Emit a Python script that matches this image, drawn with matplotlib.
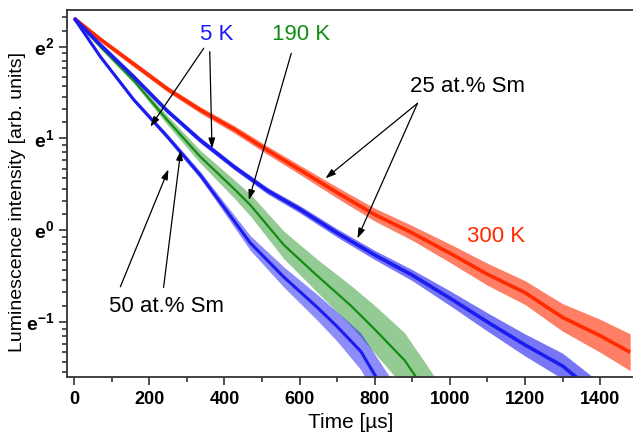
import numpy as np
import matplotlib
matplotlib.use("Agg")
import matplotlib.pyplot as plt
from matplotlib.ticker import FixedLocator, FixedFormatter

plt.rcParams["font.family"] = ["Liberation Sans", "DejaVu Sans"]
plt.rcParams["mathtext.fontset"] = "custom"
plt.rcParams["mathtext.rm"] = "Liberation Sans"
plt.rcParams["mathtext.bf"] = "Liberation Sans:bold"

# decay curves: time [us], ln(intensity), ln half-spread of the scatter
t_red = [0, 70, 159, 248, 336, 426, 515, 600, 700, 800, 900, 1000, 1100, 1200, 1300, 1400, 1480]
ln_red = [2.31, 2.08, 1.81, 1.54, 1.31, 1.10, 0.87, 0.66, 0.41, 0.17, -0.03, -0.25, -0.48, -0.68, -0.95, -1.15, -1.33]
sp_red = [0.02, 0.025, 0.03, 0.03, 0.035, 0.04, 0.045, 0.05, 0.06, 0.07, 0.08, 0.1, 0.12, 0.13, 0.15, 0.18, 0.2]

t_b25 = [0, 70, 159, 248, 336, 426, 515, 600, 700, 800, 900, 1000, 1100, 1200, 1300, 1390]
ln_b25 = [2.31, 2.02, 1.67, 1.30, 0.98, 0.69, 0.43, 0.23, -0.03, -0.27, -0.49, -0.74, -1.0, -1.25, -1.48, -1.78]
sp_b25 = [0.02, 0.02, 0.025, 0.025, 0.03, 0.03, 0.035, 0.04, 0.045, 0.05, 0.06, 0.08, 0.1, 0.12, 0.14, 0.15]

t_grn = [0, 70, 159, 248, 336, 426, 470, 558, 648, 736, 800, 880, 960]
ln_grn = [2.31, 2.0, 1.63, 1.20, 0.80, 0.45, 0.27, -0.16, -0.50, -0.82, -1.08, -1.42, -1.9]
sp_grn = [0.02, 0.025, 0.03, 0.05, 0.07, 0.1, 0.12, 0.15, 0.18, 0.22, 0.26, 0.3, 0.3]

t_b50 = [0, 70, 159, 248, 336, 381, 469, 558, 647, 700, 763, 840]
ln_b50 = [2.31, 1.89, 1.42, 1.02, 0.60, 0.35, -0.14, -0.51, -0.84, -1.05, -1.32, -1.85]
sp_b50 = [0.02, 0.02, 0.025, 0.03, 0.04, 0.05, 0.08, 0.11, 0.14, 0.16, 0.2, 0.25]

red = "#ff2a00"
blue = "#1c1cf0"
green = "#138c13"

fig = plt.figure(figsize=(6.33, 4.36), dpi=100)
ax = fig.add_axes([67 / 633, 59 / 436, 1 - 67 / 633 + 0.002, 367 / 436])
ax.set_yscale("log", base=np.e)

series = [
    (t_grn, ln_grn, sp_grn, green, 0.45, 1.6),
    (t_b50, ln_b50, sp_b50, blue, 0.5, 2.2),
    (t_red, ln_red, sp_red, red, 0.6, 2.6),
    (t_b25, ln_b25, sp_b25, blue, 0.6, 2.6),
]
for t, ln, sp, col, a, lw in series:
    t = np.array(t)
    ln = np.array(ln)
    sp = np.array(sp)
    ax.fill_between(t, np.exp(ln - sp), np.exp(ln + sp), color=col, alpha=a, lw=0)
    ax.plot(t, np.exp(ln), color=col, lw=lw, solid_capstyle="butt", solid_joinstyle="round")

ax.set_xlim(-19, 1491)
ax.set_ylim(np.exp(-1.6), np.exp(2.4))

# ticks
ax.xaxis.set_major_locator(FixedLocator(range(0, 1600, 200)))
ax.xaxis.set_minor_locator(FixedLocator(range(100, 1500, 200)))
ax.yaxis.set_major_locator(FixedLocator([np.exp(k) for k in (-1, 0, 1, 2)]))
ax.yaxis.set_major_formatter(FixedFormatter([r"$\mathbf{e}^{\mathbf{-1}}$", r"$\mathbf{e}^{\mathbf{0}}$",
                                             r"$\mathbf{e}^{\mathbf{1}}$", r"$\mathbf{e}^{\mathbf{2}}$"]))
minor_y = []
for k in (-2, -1, 0, 1, 2):
    lo, hi = np.exp(k), np.exp(k + 1)
    minor_y += list(lo + (hi - lo) * np.arange(1, 9) / 9)
ax.yaxis.set_minor_locator(FixedLocator(minor_y))
ax.yaxis.set_minor_formatter(FixedFormatter([""] * len(minor_y)))

ax.tick_params(which="both", direction="out", color="#333333", width=1.2, top=False, right=False)
ax.tick_params(which="major", length=6)
ax.tick_params(which="minor", length=3.5)
ax.tick_params(axis="x", labelsize=13, pad=4)
ax.tick_params(axis="y", labelsize=14, pad=3)
for lab in ax.get_xticklabels():
    lab.set_fontweight("bold")

for s in ("left", "bottom", "top"):
    ax.spines[s].set_linewidth(1.3)
    ax.spines[s].set_color("#333333")
ax.spines["right"].set_visible(False)

ax.set_xlabel("Time [µs]", fontsize=15, labelpad=4)
ax.set_ylabel("Luminescence intensity [arb. units]", fontsize=14, labelpad=2)
ax.yaxis.set_label_coords(-0.073, 0.477)

# labels and arrows
ax.text(380, np.exp(2.128), "5 K", color=blue, fontsize=16, ha="center", va="center")
ax.text(603, np.exp(2.128), "190 K", color=green, fontsize=16, ha="center", va="center")
ax.text(1047, np.exp(1.564), "25 at.% Sm", color="black", fontsize=16, ha="center", va="center")
ax.text(1123, np.exp(-0.072), "300 K", color=red, fontsize=16, ha="center", va="center")
ax.text(247, np.exp(-0.835), "50 at.% Sm", color="black", fontsize=16, ha="center", va="center")

arrows = [
    ((345, 1.983), (203, 1.128)),
    ((361, 1.946), (367, 0.892)),
    ((578, 1.928), (465, 0.328)),
    ((914, 1.383), (669, 0.565)),
    ((914, 1.383), (754, -0.09)),
    ((123, -0.617), (251, 0.663)),
    ((238, -0.624), (284, 0.873)),
]
for (x0, l0), (x1, l1) in arrows:
    ax.annotate("", xy=(x1, np.exp(l1)), xytext=(x0, np.exp(l0)),
                arrowprops=dict(arrowstyle="-|>,head_length=0.6,head_width=0.2",
                                color="black", lw=0.9, shrinkA=0, shrinkB=0))

fig.savefig("out.png", dpi=100)
